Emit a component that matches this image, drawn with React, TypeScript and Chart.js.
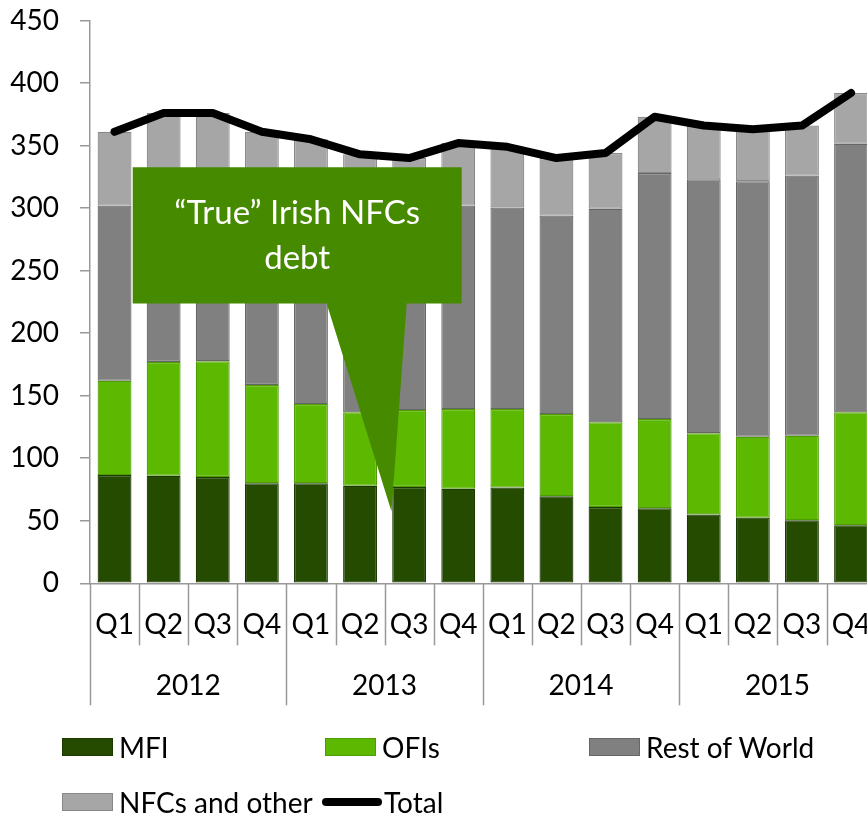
import React, { useEffect, useRef } from "react";
import { Chart, registerables } from "chart.js";

Chart.register(...registerables);

const quarters = ["Q1","Q2","Q3","Q4","Q1","Q2","Q3","Q4","Q1","Q2","Q3","Q4","Q1","Q2","Q3","Q4"];
const years = ["2012", "2013", "2014", "2015"];

const mfi = [86.5, 86, 85, 80, 80, 78, 77, 75.5, 76.5, 69.7, 61, 60, 55, 52.5, 50.5, 46.5];
const ofis = [75.5, 91, 92.5, 78.5, 63.3, 58.7, 61.5, 63.8, 62.8, 65.6, 67.7, 71.3, 65, 64.7, 67.5, 90.2];
const restOfWorld = [140, 143, 143.5, 146.5, 158.7, 153.3, 149.5, 162.7, 161.2, 158.7, 170.8, 196.7, 203, 204.3, 208, 214.8];
const nfcsOther = [59, 56, 55, 56, 53, 53, 52, 50, 48.5, 46, 44.5, 45, 43, 41.5, 40, 40.5];
const total = [361, 376, 376, 361, 355, 343, 340, 352, 349, 340, 344, 373, 366, 363, 366, 392];

const yTicks = [0, 50, 100, 150, 200, 250, 300, 350, 400, 450];

const calloutText = ["\u201CTrue\u201D Irish NFCs", "debt"];
// callout geometry in data space: [category index, value]
const calloutBox = { x0: 0.37, x1: 7.07, yTop: 332.6, yBottom: 223.8 };
const calloutPointer = { baseX0: 4.32, baseX1: 5.95, tipX: 5.64, tipY: 57.4 };

const FONT = "Lato, 'Open Sans', sans-serif";
const FONT_SIZE = 28;
const AXIS_COLOR = "#999999";

const series = [
  { label: "MFI", data: mfi, color: "#254b00", border: "#1c3a00" },
  { label: "OFIs", data: ofis, color: "#5cb800", border: "#4d9c00" },
  { label: "Rest of World", data: restOfWorld, color: "#808080", border: "#666666" },
  { label: "NFCs and other", data: nfcsOther, color: "#a6a6a6", border: "#888888" },
];

const separatorPlugin = {
  id: "separators",
  afterDraw(chart: any) {
    const { ctx, chartArea } = chart;
    const x = chart.scales.x;
    const x2 = chart.scales.x2;
    ctx.save();
    ctx.strokeStyle = AXIS_COLOR;
    ctx.lineWidth = 1.5;
    for (let i = 0; i <= quarters.length; i++) {
      const px = Math.round(x.getPixelForValue(i - 0.5)) + 0.5;
      const bottom = i % 4 === 0 ? x2.bottom : x.bottom;
      ctx.beginPath();
      ctx.moveTo(px, chartArea.bottom);
      ctx.lineTo(px, bottom);
      ctx.stroke();
    }
    ctx.restore();
  },
};

const calloutPlugin = {
  id: "callout",
  afterDatasetsDraw(chart: any) {
    const { ctx } = chart;
    const x = chart.scales.x;
    const y = chart.scales.y;
    const bx0 = x.getPixelForValue(calloutBox.x0);
    const bx1 = x.getPixelForValue(calloutBox.x1);
    const by0 = y.getPixelForValue(calloutBox.yTop);
    const by1 = y.getPixelForValue(calloutBox.yBottom);
    const p0 = x.getPixelForValue(calloutPointer.baseX0);
    const p1 = x.getPixelForValue(calloutPointer.baseX1);
    const tx = x.getPixelForValue(calloutPointer.tipX);
    const ty = y.getPixelForValue(calloutPointer.tipY);
    ctx.save();
    ctx.fillStyle = "#468a00";
    ctx.beginPath();
    ctx.moveTo(bx0, by0);
    ctx.lineTo(bx1, by0);
    ctx.lineTo(bx1, by1);
    ctx.lineTo(p1, by1);
    ctx.lineTo(tx, ty);
    ctx.lineTo(p0, by1);
    ctx.lineTo(bx0, by1);
    ctx.closePath();
    ctx.fill();
    ctx.fillStyle = "#ffffff";
    ctx.font = `33px ${FONT}`;
    ctx.textAlign = "center";
    ctx.textBaseline = "middle";
    const cx = (bx0 + bx1) / 2;
    const cy = (by0 + by1) / 2;
    const lh = 45;
    calloutText.forEach((t, i) => {
      ctx.fillText(t, cx, cy + (i - (calloutText.length - 1) / 2) * lh);
    });
    ctx.restore();
  },
};

function Legend() {
  const items = [
    { ...series[0], left: 62, top: 747 },
    { ...series[1], left: 325, top: 747 },
    { ...series[2], left: 589, top: 747 },
    { ...series[3], left: 62, top: 802 },
  ];
  const rowStyle: any = {
    position: "absolute",
    height: 34,
    display: "flex",
    alignItems: "center",
    fontFamily: FONT,
    fontSize: FONT_SIZE,
    color: "#000",
    whiteSpace: "nowrap",
  };
  return (
    <>
      {items.map((it) => (
        <div key={it.label} style={{ ...rowStyle, left: it.left, top: it.top - 17 }}>
          <span
            style={{
              display: "inline-block",
              width: 49,
              height: 16,
              background: it.color,
              border: `1.5px solid ${it.border}`,
              marginRight: 6,
            }}
          />
          {it.label}
        </div>
      ))}
      <div style={{ ...rowStyle, left: 322, top: 802 - 17 }}>
        <span
          style={{
            display: "inline-block",
            width: 60,
            height: 8,
            borderRadius: 4,
            background: "#000",
            marginRight: 2,
          }}
        />
        Total
      </div>
    </>
  );
}

const zeroPad = (s: any) => {
  s.paddingTop = 0;
  s.paddingBottom = 0;
  s.paddingLeft = 0;
  s.paddingRight = 0;
};

export default function App() {
  const ref = useRef<HTMLCanvasElement>(null);
  useEffect(() => {
    if (!ref.current) return;
    const chart = new Chart(ref.current, {
      type: "bar",
      data: {
        labels: quarters,
        datasets: [
          {
            type: "line",
            label: "Total",
            data: total,
            borderColor: "#000000",
            backgroundColor: "#000000",
            borderWidth: 8,
            pointRadius: 0,
            borderCapStyle: "round",
            borderJoinStyle: "round",
            tension: 0,
            stack: "line",
            order: 0,
          } as any,
          ...series.map((s) => ({
            type: "bar" as const,
            label: s.label,
            data: s.data,
            backgroundColor: s.color,
            borderColor: s.border,
            borderWidth: 1.2,
            borderSkipped: false,
            stack: "bars",
            order: 1,
            categoryPercentage: 1,
            barPercentage: 0.69,
          })),
        ],
      },
      options: {
        animation: false,
        responsive: false,
        devicePixelRatio: 1,
        layout: { padding: { left: 0, top: 20.5, right: 4.4, bottom: 107.7 } },
        plugins: { legend: { display: false }, tooltip: { enabled: false } },
        scales: {
          x: {
            type: "category",
            position: "bottom",
            stacked: true,
            weight: 0,
            offset: true,
            grid: { display: false, drawTicks: false },
            border: { display: true, color: AXIS_COLOR, width: 1.5 },
            ticks: {
              autoSkip: false,
              maxRotation: 0,
              padding: 25,
              color: "#000",
              font: { family: FONT, size: FONT_SIZE },
            },
            afterFit: (s: any) => { s.height = 62; zeroPad(s); },
          },
          x2: {
            type: "category",
            position: "bottom",
            labels: years,
            weight: 1,
            offset: true,
            grid: { display: false, drawTicks: false },
            border: { display: false },
            ticks: {
              autoSkip: false,
              maxRotation: 0,
              padding: 24,
              color: "#000",
              font: { family: FONT, size: FONT_SIZE },
            },
            afterFit: (s: any) => { s.height = 60; zeroPad(s); },
          },
          y: {
            stacked: true,
            min: 0,
            max: 450,
            afterBuildTicks: (s: any) => { s.ticks = yTicks.map((v) => ({ value: v })); },
            grid: { display: true, drawOnChartArea: false, drawTicks: true, tickLength: 10, color: AXIS_COLOR, lineWidth: 1.5 },
            border: { display: true, color: AXIS_COLOR, width: 1.5 },
            ticks: {
              padding: 21,
              color: "#000",
              font: { family: FONT, size: FONT_SIZE },
            },
            afterFit: (s: any) => { s.width = 90; zeroPad(s); },
          },
        },
      },
      plugins: [separatorPlugin, calloutPlugin],
    });
    return () => chart.destroy();
  }, []);

  return (
    <div
      style={{
        position: "absolute",
        left: 0,
        top: 0,
        width: 867,
        height: 813,
        overflow: "hidden",
        background: "#fff",
      }}
    >
      <canvas ref={ref} width={880} height={813} style={{ position: "absolute", left: 0, top: 0, width: 880, height: 813 }} />
      <Legend />
    </div>
  );
}
